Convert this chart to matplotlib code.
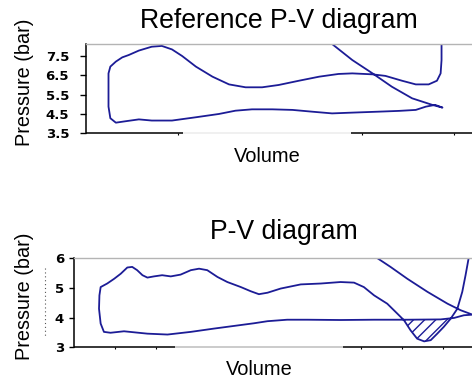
"""
Two stacked P-V diagrams (reference cycle on top, measured cycle below).
Saves out.png at 472x381 px.
"""
import numpy as np
import matplotlib
matplotlib.use("Agg")
import matplotlib.pyplot as plt
from matplotlib.lines import Line2D

NAVY = "#1c1c96"

# --- Reference P-V cycle (volume in tick units, pressure in bar) ---
# branch 1: expansion line from the top, then back along the low-pressure line
ref_lo_v = [2.61, 2.68, 2.90, 3.12, 3.33, 3.55, 3.77, 3.88, 3.80, 3.70, 3.59,
            3.41, 3.19, 2.90, 2.68, 2.46, 2.25, 2.03, 1.81, 1.63, 1.45, 1.20,
            0.94, 0.72, 0.58, 0.43, 0.33]
ref_lo_p = [8.41, 8.12, 7.29, 6.60, 5.91, 5.31, 4.97, 4.83, 4.97, 4.88, 4.71,
            4.66, 4.62, 4.57, 4.53, 4.62, 4.71, 4.74, 4.74, 4.67, 4.50, 4.33,
            4.16, 4.16, 4.22, 4.12, 4.05]
# branch 2: left side up, over the top and up the right-hand side
ref_up_v = [0.27, 0.25, 0.25, 0.25, 0.27, 0.33, 0.40, 0.47, 0.58, 0.72, 0.83,
            0.94, 1.05, 1.20, 1.38, 1.56, 1.74, 1.92, 2.10, 2.32, 2.54, 2.75,
            2.90, 3.12, 3.26, 3.44, 3.59, 3.73, 3.82, 3.86, 3.87, 3.87, 3.87]
ref_up_p = [4.28, 4.88, 5.74, 6.60, 6.95, 7.21, 7.43, 7.55, 7.78, 7.98, 8.02,
            7.84, 7.50, 6.95, 6.43, 6.03, 5.88, 5.88, 6.00, 6.22, 6.43, 6.57,
            6.60, 6.55, 6.47, 6.22, 6.03, 6.03, 6.22, 6.60, 7.29, 8.12, 8.50]

# --- Measured P-V cycle ---
pv_lo_v = [7.24, 7.36, 7.72, 8.13, 8.62, 9.11, 9.43, 9.72, 9.51, 9.27, 8.94,
           8.13, 7.32, 6.50, 5.69, 5.20, 4.72, 4.39, 3.90, 3.41, 2.85, 2.28,
           1.79, 1.22, 0.89, 0.73]
pv_lo_p = [6.27, 6.04, 5.71, 5.31, 4.87, 4.47, 4.25, 4.10, 4.08, 3.99, 3.94,
           3.93, 3.93, 3.92, 3.93, 3.93, 3.88, 3.81, 3.72, 3.63, 3.52, 3.43,
           3.46, 3.54, 3.49, 3.52]
pv_up_v = [0.65, 0.61, 0.62, 0.65, 0.81, 0.98, 1.14, 1.30, 1.42, 1.54, 1.67,
           1.79, 1.95, 2.15, 2.36, 2.60, 2.85, 3.05, 3.25, 3.50, 3.74, 4.07,
           4.31, 4.51, 4.72, 5.04, 5.53, 6.02, 6.50, 6.83, 7.07, 7.32, 7.64,
           7.89, 8.05, 8.21, 8.37, 8.54, 8.70, 8.86, 9.02, 9.19, 9.35, 9.47,
           9.55, 9.63, 9.67]
pv_up_p = [3.80, 4.30, 4.75, 5.03, 5.15, 5.31, 5.48, 5.69, 5.71, 5.60, 5.43,
           5.35, 5.39, 5.43, 5.39, 5.45, 5.60, 5.65, 5.60, 5.37, 5.20, 5.03,
           4.89, 4.79, 4.84, 4.98, 5.12, 5.15, 5.20, 5.18, 5.03, 4.75, 4.47,
           4.13, 3.91, 3.57, 3.29, 3.20, 3.24, 3.46, 3.69, 3.97, 4.30, 4.87,
           5.43, 6.04, 6.27]

REF_YTICKS = [3.5, 4.5, 5.5, 6.5, 7.5]
PV_YTICKS = [3, 4, 5, 6]

plt.rcParams.update({
    "font.family": ["Liberation Sans", "DejaVu Sans"],
    "hatch.color": NAVY,
    "hatch.linewidth": 1.0,
})

W, H = 472, 381
fig = plt.figure(figsize=(W / 100, H / 100), dpi=100)


def px_axes(left, top, bottom):
    return fig.add_axes([left / W, 1 - bottom / H, 1 - left / W, (bottom - top) / H])


def style(ax, xmax, ylim, yticks, xticks, segs, lab_pad, tick_len):
    ax.set_xlim(0, xmax)
    ax.set_ylim(*ylim)
    ax.set_yticks(yticks)
    ax.set_yticklabels([f"{t:g}" for t in yticks], family="DejaVu Sans",
                       fontweight="bold", fontsize=9.5)
    ax.tick_params(axis="y", length=tick_len, width=1.0, pad=lab_pad)
    ax.set_xticks(xticks)
    ax.set_xticklabels([])
    ax.tick_params(axis="x", length=1.6, width=0.8, direction="out")
    ax.spines["right"].set_visible(False)
    ax.spines["bottom"].set_visible(False)
    ax.spines["left"].set_linewidth(1.1)
    ax.spines["top"].set_color("#b4b4b4")
    ax.spines["top"].set_linewidth(1.0)
    tr = ax.get_xaxis_transform()
    for x0, x1, col in segs:
        ax.plot([x0, x1], [0, 0], color=col, lw=1.1, transform=tr,
                clip_on=False, solid_capstyle="butt")


# ---- top: reference diagram ----
ax1 = px_axes(85.5, 44, 133.3)
ax1.plot(ref_lo_v + ref_up_v, ref_lo_p + ref_up_p, color=NAVY, lw=1.3,
         solid_joinstyle="round")
style(ax1, (472 - 85.5) / 92, (3.5, 8.12), REF_YTICKS, [1, 3, 4],
      [(0, 1.06, "black"), (1.06, 2.89, "#ececec"), (2.89, 4.3, "black")],
      lab_pad=7.5, tick_len=4.3)

# ---- bottom: measured diagram ----
ax2 = px_axes(74, 258.3, 347.3)
ax2.plot(pv_lo_v + pv_up_v, pv_lo_p + pv_up_p, color=NAVY, lw=1.3,
         solid_joinstyle="round")

# hatched negative-work loop below the exhaust line
lo_v = np.array(pv_lo_v)
lo_p = np.array(pv_lo_p)
k = int(np.argmax(lo_v))
line_v, line_p = lo_v[k:][::-1], lo_p[k:][::-1]
up_v = np.array(pv_up_v)
up_p = np.array(pv_up_p)
dip = (up_v >= 8.0) & (up_v <= 9.2)
ax2.fill_between(up_v[dip], up_p[dip], np.interp(up_v[dip], line_v, line_p),
                 facecolor="none", edgecolor=NAVY, hatch="///", linewidth=0)

style(ax2, (472 - 74) / 41, (3, 6), PV_YTICKS, [1, 2, 7, 8, 9],
      [(0, 2.46, "black"), (2.46, 6.56, "#bdbdbd"), (6.56, 9.8, "black")],
      lab_pad=3.5, tick_len=3.6)

# ---- text ----
fig.text(279 / W, 1 - 28.3 / H, "Reference P-V diagram", ha="center",
         va="baseline", fontsize=19.2)
fig.text(267 / W, 1 - 162 / H, "Volume", ha="center", va="baseline", fontsize=14.4)
fig.text(24 / W, 1 - 82 / H, "Pressure (bar)", ha="center", va="center",
         rotation=90, fontsize=14.3)

fig.text(284 / W, 1 - 239 / H, "P-V diagram", ha="center", va="baseline",
         fontsize=19.2)
fig.text(259 / W, 1 - 375 / H, "Volume", ha="center", va="baseline", fontsize=14.4)
fig.text(24.5 / W, 1 - 296 / H, "Pressure (bar)", ha="center", va="center",
         rotation=90, fontsize=14.3)

# faint dotted scan mark next to the lower axis label
fig.add_artist(Line2D([45 / W, 45 / W], [1 - 268 / H, 1 - 338 / H],
                      color="#555555", lw=0.8, ls=(0, (1, 2.5))))

fig.savefig("out.png", dpi=100)
